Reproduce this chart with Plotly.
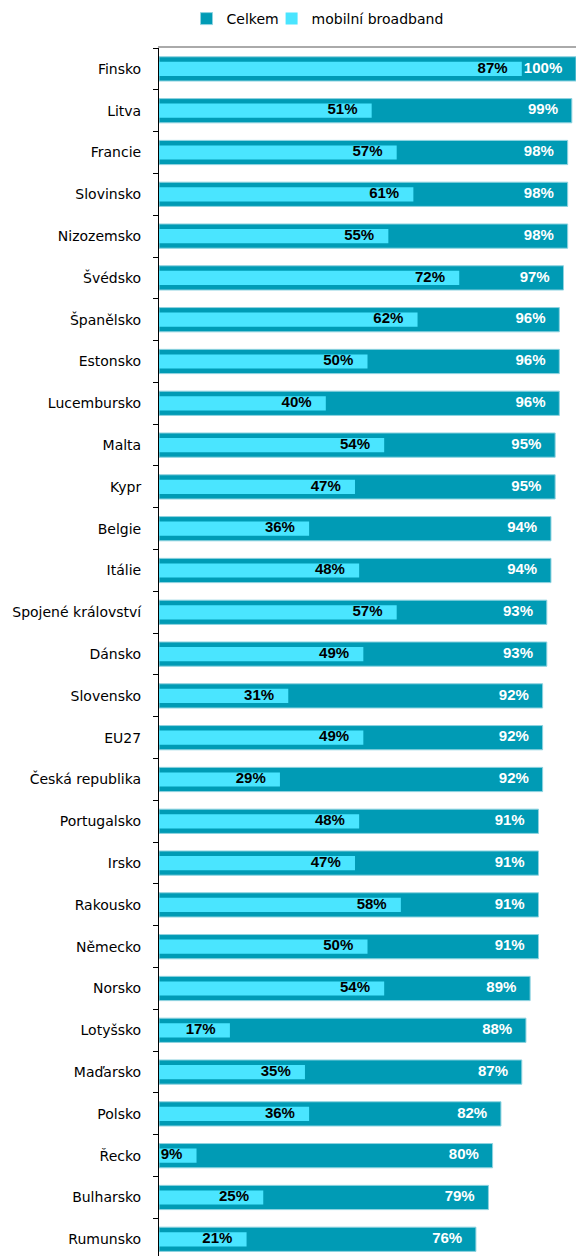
import plotly.graph_objects as go

countries = ["Finsko", "Litva", "Francie", "Slovinsko", "Nizozemsko", "Švédsko", "Španělsko",
             "Estonsko", "Lucembursko", "Malta", "Kypr", "Belgie", "Itálie", "Spojené království",
             "Dánsko", "Slovensko", "EU27", "Česká republika", "Portugalsko", "Irsko", "Rakousko",
             "Německo", "Norsko", "Lotyšsko", "Maďarsko", "Polsko", "Řecko", "Bulharsko", "Rumunsko"]
celkem = [100, 99, 98, 98, 98, 97, 96, 96, 96, 95, 95, 94, 94, 93, 93, 92, 92, 92, 91, 91, 91, 91,
          89, 88, 87, 82, 80, 79, 76]
mobilni = [87, 51, 57, 61, 55, 72, 62, 50, 40, 54, 47, 36, 48, 57, 49, 31, 49, 29, 48, 47, 58, 50,
           54, 17, 35, 36, 9, 25, 21]

DARK = "#009BB5"
LIGHT = "#4AE5FF"
lab_font = "Liberation Sans, Arial"
cat_font = "DejaVu Sans, Liberation Sans, Arial"

fig = go.Figure()
fig.add_trace(go.Bar(name="Celkem", y=countries, x=celkem, orientation="h", width=0.58,
                     marker=dict(color=DARK, line=dict(color="#8FD3E0", width=1)),
                     hoverinfo="x+y", legend="legend"))
fig.add_trace(go.Bar(name="mobilní broadband", y=countries, x=mobilni, orientation="h", width=0.34,
                     marker=dict(color=LIGHT, line=dict(width=0)), hoverinfo="x+y",
                     legend="legend2"))
fig.add_trace(go.Scatter(y=countries, x=[v - 3.3 for v in celkem], mode="text",
                         text=[f"{v}%" for v in celkem], textposition="middle left",
                         textfont=dict(family=lab_font, size=15, color="white", weight="bold"),
                         showlegend=False, hoverinfo="skip", cliponaxis=False))
fig.add_trace(go.Scatter(y=countries, x=[v - 3.4 for v in mobilni], mode="text",
                         text=[f"{v}%" for v in mobilni], textposition="middle left",
                         textfont=dict(family=lab_font, size=15, color="black", weight="bold"),
                         showlegend=False, hoverinfo="skip", cliponaxis=False))

leg_common = dict(orientation="h", xanchor="left", y=1.024, yanchor="middle",
                  font=dict(family=cat_font, size=14), itemwidth=30, bgcolor="rgba(0,0,0,0)")
fig.update_layout(
    width=576, height=1256,
    margin=dict(l=159, r=0, t=48, b=0),
    barmode="overlay",
    plot_bgcolor="white", paper_bgcolor="white",
    font=dict(family=cat_font, size=14, color="black"),
    legend=dict(x=0.066, **leg_common),
    legend2=dict(x=0.27, **leg_common),
    showlegend=True,
)
fig.update_xaxes(range=[0, 100], side="top", showline=True, linecolor="#AAAAAA", linewidth=2,
                 showgrid=False, zeroline=False, showticklabels=False, ticks="")
fig.update_yaxes(type="category", categoryorder="array", categoryarray=countries,
                 range=[28.4, -0.5], autorange=False, showline=True, linecolor="black", linewidth=1,
                 ticks="outside", ticklen=5, tickcolor="black", tickson="boundaries",
                 showgrid=False, ticklabelstandoff=14, tickfont=dict(family=cat_font, size=14))

fig.write_html("out.html", config={"displayModeBar": False},
               post_script="document.body.style.margin='0';document.body.style.overflow='hidden';")
